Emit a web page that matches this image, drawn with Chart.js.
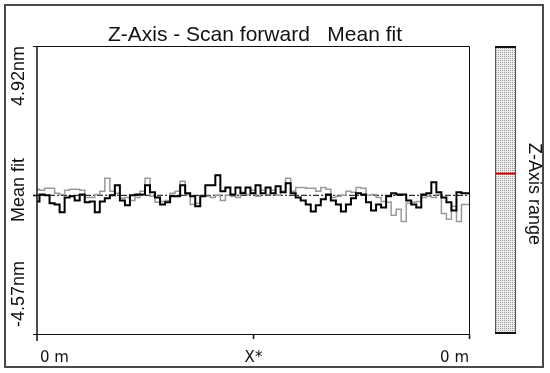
<!DOCTYPE html>
<html>
<head>
<meta charset="utf-8">
<title>Z-Axis - Scan forward</title>
<script src="https://cdn.jsdelivr.net/npm/chart.js@4/dist/chart.umd.min.js"></script>
<style>
    body { margin: 0; background: #fff; }
    #chart { display: block; }
</style>
</head>
<body>
<canvas id="chart" width="550" height="373"></canvas>
<script>
// Z height along the scan line, nm
const scanForward = [
    -0.20, 0.03, 0.00, -0.26, -0.30, -0.56, -0.07, -0.03, -0.17, 0.03,
    -0.23, -0.20, -0.56, -0.20, -0.10, 0.00, 0.33, -0.17, -0.33, 0.00,
    0.03, 0.03, 0.33, 0.10, -0.07, -0.30, -0.23, -0.03, -0.03, 0.33,
    0.07, -0.03, -0.36, -0.03, 0.33, 0.33, 0.66, 0.13, 0.26, 0.03,
    0.26, 0.07, 0.26, 0.07, 0.33, 0.07, 0.26, 0.07, 0.30, 0.10,
    0.40, 0.07, -0.07, -0.17, -0.30, -0.53, -0.33, -0.13, 0.03, -0.17,
    -0.30, -0.53, -0.30, -0.10, 0.07, 0.03, -0.23, -0.50, -0.30, -0.40,
    -0.03, 0.07, 0.03, 0.03, -0.17, -0.30, -0.40, 0.03, 0.07, 0.43,
    0.10, -0.07, -0.23, -0.50, 0.10, 0.07, 0.07
];
const scanBackward = [
    0.20, 0.17, 0.23, 0.23, 0.07, 0.03, 0.17, 0.20, 0.20, 0.17,
    -0.07, -0.07, 0.03, 0.13, 0.56, 0.13, 0.07, -0.10, -0.07, -0.17,
    -0.07, 0.13, 0.56, -0.03, -0.23, -0.20, -0.17, 0.07, 0.13, 0.46,
    0.03, -0.30, -0.26, 0.00, -0.03, -0.07, 0.00, -0.17, 0.00, -0.03,
    -0.07, 0.10, 0.03, 0.17, -0.03, 0.17, 0.03, 0.17, 0.00, 0.13,
    0.56, 0.13, 0.26, 0.26, 0.23, 0.23, 0.13, 0.26, 0.20, -0.07,
    -0.03, 0.00, 0.13, 0.10, 0.26, 0.23, 0.00, 0.03, -0.07, -0.20,
    -0.23, -0.66, -0.46, -0.86, -0.26, -0.23, -0.20, -0.07, -0.03, -0.07,
    0.03, -0.60, -0.79, -0.36, -0.86, -0.30, -0.30
];
const zMax = 4.92;
const zMin = -4.57;
const meanValue = 0;
const rangeMarker = 0.557;   // red mark in the Z-axis range bar (0 = bottom, 1 = top)

const titleText = 'Z-Axis - Scan forward   Mean fit';
const yTopLabel = '4.92nm';
const yMidLabel = 'Mean fit';
const yBottomLabel = '-4.57nm';
const xLabels = ['0 m', 'X*', '0 m'];
const rangeLabel = 'Z-Axis range';

function toPoints(values) {
    return values.map((v, i) => ({ x: i, y: v }));
}

const lastIndex = Math.max(scanForward.length, scanBackward.length) - 1;

function makePattern() {
    const tile = document.createElement('canvas');
    tile.width = 2;
    tile.height = 2;
    const t = tile.getContext('2d');
    t.fillStyle = '#ececec';
    t.fillRect(0, 0, 2, 2);
    t.fillStyle = '#9a9a9a';
    t.fillRect(0, 0, 1, 1);
    return tile;
}

const framePlugin = {
    id: 'frame',
    beforeDraw(chart) {
        const ctx = chart.ctx;
        ctx.save();
        ctx.fillStyle = '#fff';
        ctx.fillRect(0, 0, chart.width, chart.height);
        ctx.restore();
    },
    afterDraw(chart) {
        const ctx = chart.ctx;
        const { left, right, top, bottom } = chart.chartArea;
        const y = chart.scales.y;
        const x = chart.scales.x;
        ctx.save();

        // outer border
        ctx.strokeStyle = '#4a4a4a';
        ctx.lineWidth = 2;
        ctx.strokeRect(5, 5, 538, 362);

        // plot frame and axes
        ctx.strokeStyle = '#111';
        ctx.lineWidth = 1;
        ctx.beginPath();
        ctx.moveTo(left - 4, top + 0.5);
        ctx.lineTo(right + 0.5, top + 0.5);
        ctx.lineTo(right + 0.5, bottom + 0.5);
        ctx.moveTo(left - 4, bottom + 0.5);
        ctx.lineTo(right + 0.5, bottom + 0.5);
        ctx.stroke();

        ctx.lineWidth = 1.5;
        ctx.beginPath();
        ctx.moveTo(left, top);
        ctx.lineTo(left, bottom + 7);
        const zeroY = Math.round(y.getPixelForValue(meanValue)) + 0.5;
        ctx.moveTo(left - 4, zeroY);
        ctx.lineTo(left, zeroY);
        const midX = Math.round(x.getPixelForValue(lastIndex / 2)) + 0.5;
        ctx.moveTo(midX, bottom);
        ctx.lineTo(midX, bottom + 5);
        ctx.moveTo(right + 0.5, bottom);
        ctx.lineTo(right + 0.5, bottom + 5);
        ctx.stroke();

        // title
        ctx.fillStyle = '#111';
        ctx.font = '21px "Liberation Sans", Arial, sans-serif';
        ctx.textAlign = 'center';
        ctx.textBaseline = 'alphabetic';
        ctx.fillText(titleText, 255, 41);

        // rotated y labels
        ctx.font = '18px "Liberation Sans", Arial, sans-serif';
        ctx.textBaseline = 'middle';
        [[yTopLabel, 76], [yMidLabel, 190], [yBottomLabel, 294]].forEach(function(item) {
            ctx.save();
            ctx.translate(19, item[1]);
            ctx.rotate(-Math.PI / 2);
            ctx.fillText(item[0], 0, 0);
            ctx.restore();
        });

        // x labels
        ctx.font = '15px "DejaVu Sans", sans-serif';
        ctx.textBaseline = 'alphabetic';
        ctx.textAlign = 'left';
        ctx.fillText(xLabels[0], left + 3, 362);
        ctx.textAlign = 'center';
        ctx.fillText(xLabels[1], midX, 362);
        ctx.textAlign = 'right';
        ctx.fillText(xLabels[2], right, 362);

        // Z-axis range bar
        const barL = 495, barR = 516;
        ctx.fillStyle = ctx.createPattern(makePattern(), 'repeat');
        ctx.fillRect(barL, top, barR - barL, bottom - top);
        ctx.strokeStyle = '#555';
        ctx.lineWidth = 1;
        ctx.strokeRect(barL + 0.5, top + 0.5, barR - barL - 1, bottom - top - 1);
        ctx.strokeStyle = '#111';
        ctx.lineWidth = 2;
        ctx.beginPath();
        ctx.moveTo(barL, top + 1);
        ctx.lineTo(barR, top + 1);
        ctx.moveTo(barL, bottom - 1);
        ctx.lineTo(barR, bottom - 1);
        ctx.stroke();
        const markY = bottom - rangeMarker * (bottom - top);
        ctx.strokeStyle = '#d00000';
        ctx.beginPath();
        ctx.moveTo(barL + 1, markY);
        ctx.lineTo(barR - 1, markY);
        ctx.stroke();

        ctx.fillStyle = '#111';
        ctx.font = '18px "Liberation Sans", Arial, sans-serif';
        ctx.textAlign = 'center';
        ctx.textBaseline = 'middle';
        ctx.save();
        ctx.translate(534, 194);
        ctx.rotate(Math.PI / 2);
        ctx.fillText(rangeLabel, 0, 0);
        ctx.restore();

        ctx.restore();
    }
};

new Chart(document.getElementById('chart'), {
    type: 'line',
    data: {
        datasets: [{
            label: 'Scan forward',
            data: toPoints(scanForward),
            borderColor: '#000',
            borderWidth: 2,
            stepped: 'middle',
            pointRadius: 0
        }, {
            label: 'Scan backward',
            data: toPoints(scanBackward),
            borderColor: '#9a9a9a',
            borderWidth: 1.5,
            stepped: 'middle',
            pointRadius: 0
        }, {
            label: 'Mean',
            data: [{ x: 0, y: meanValue }, { x: lastIndex, y: meanValue }],
            borderColor: '#000',
            borderWidth: 1,
            borderDash: [6, 2, 2, 2],
            pointRadius: 0
        }]
    },
    options: {
        responsive: false,
        animation: false,
        layout: {
            padding: { left: 37, right: 81, top: 46, bottom: 39 }
        },
        scales: {
            x: { type: 'linear', min: 0, max: lastIndex, display: false },
            y: { min: zMin, max: zMax, display: false }
        },
        plugins: {
            legend: { display: false },
            title: { display: false },
            tooltip: { enabled: false }
        }
    },
    plugins: [framePlugin]
});
</script>
</body>
</html>
